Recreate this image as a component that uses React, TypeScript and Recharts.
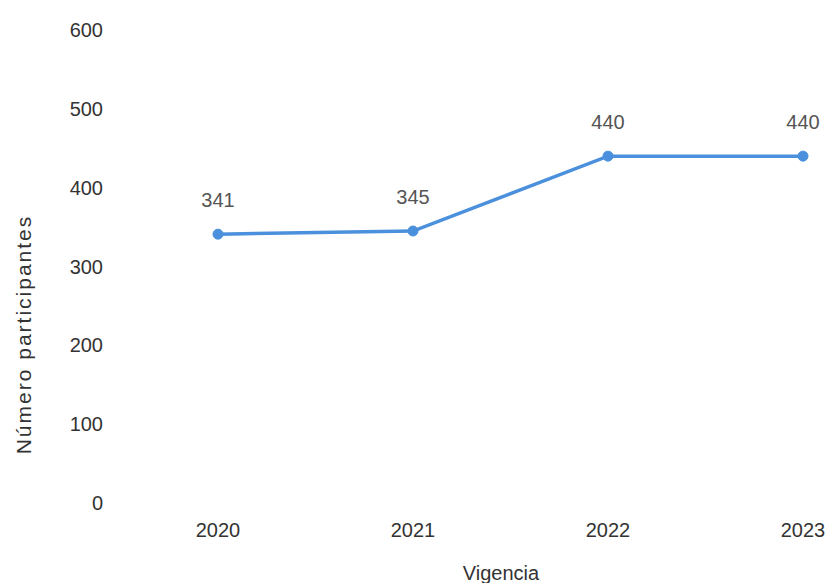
import { LineChart, Line, XAxis, YAxis, LabelList } from 'recharts';

const years = ['2020', '2021', '2022', '2023'];
const participants = [341, 345, 440, 440];
const yTicks = [0, 100, 200, 300, 400, 500, 600];

const data = years.map((year, i) => ({ year, value: participants[i] }));

const font = 'Arial, "Liberation Sans", sans-serif';

export default function App() {
  return (
    <div style={{ position: 'absolute', left: 0, top: 0, background: '#ffffff' }}>
      <LineChart width={828} height={583} data={data} margin={{ top: 30, right: 25, left: 0, bottom: 50 }}>
        <XAxis
          dataKey="year"
          axisLine={false}
          tickLine={false}
          padding={{ left: 103, right: 0 }}
          tick={{ fill: '#333', fontSize: 20, fontFamily: font }}
          tickMargin={14}
          label={{ value: 'Vigencia', position: 'insideBottom', offset: -47, dx: 42, fill: '#333', fontSize: 20, fontFamily: font }}
        />
        <YAxis
          width={115}
          domain={[0, 600]}
          ticks={yTicks}
          axisLine={false}
          tickLine={false}
          tickMargin={6}
          tick={{ fill: '#333', fontSize: 20, fontFamily: font }}
          label={{ value: 'Número participantes', angle: -90, position: 'center', dx: -34, dy: 68, fill: '#333', fontSize: 21, letterSpacing: 2, fontFamily: font }}
        />
        <Line
          type="linear"
          dataKey="value"
          stroke="#4a90dc"
          strokeWidth={3.5}
          dot={{ r: 5, fill: '#4a90dc', stroke: '#4a90dc', strokeWidth: 1 }}
          isAnimationActive={false}
        >
          <LabelList dataKey="value" position="top" offset={27} fill="#555" fontSize={20} fontFamily={font} />
        </Line>
      </LineChart>
    </div>
  );
}
